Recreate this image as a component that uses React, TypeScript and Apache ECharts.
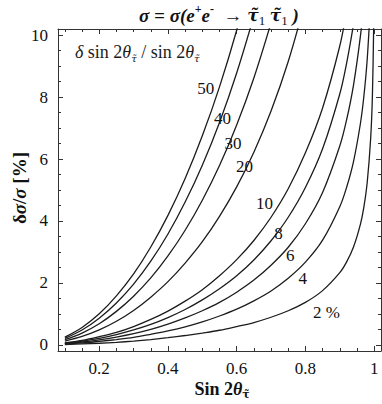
import React, { useEffect, useRef } from "react";
import * as echarts from "echarts";

// sin 2θ sample positions shared by every curve
const sinValues = [0.1, 0.15, 0.2, 0.25, 0.3, 0.35, 0.4, 0.45, 0.5, 0.55, 0.6, 0.65, 0.7, 0.75, 0.8, 0.85, 0.9, 0.92, 0.94, 0.96, 0.97, 0.98, 0.99, 0.995, 0.999];

// δσ/σ [%] for each δ sin2θ / sin2θ curve
const curve50 = [0.25, 0.56, 1.0, 1.58, 2.29, 3.16, 4.18, 5.37, 6.75, 8.33, 10.16, 12.26];
const curve40 = [0.21, 0.48, 0.86, 1.35, 1.96, 2.7, 3.58, 4.61, 5.8, 7.18, 8.78, 10.62];
const curve30 = [0.17, 0.38, 0.68, 1.08, 1.57, 2.16, 2.87, 3.7, 4.67, 5.79, 7.1, 8.62, 10.4];
const curve20 = [0.12, 0.27, 0.48, 0.76, 1.11, 1.54, 2.04, 2.64, 3.33, 4.15, 5.1, 6.22, 7.55, 9.15, 11.11];
const curve10 = [0.06, 0.14, 0.26, 0.4, 0.59, 0.82, 1.09, 1.41, 1.78, 2.23, 2.75, 3.37, 4.12, 5.04, 6.2, 7.65, 9.65, 10.8];
const curve8 = [0.05, 0.12, 0.21, 0.33, 0.48, 0.66, 0.88, 1.14, 1.45, 1.81, 2.23, 2.74, 3.36, 4.12, 5.08, 6.33, 8.1, 9.1, 10.35];
const curve6 = [0.04, 0.09, 0.16, 0.25, 0.36, 0.5, 0.67, 0.87, 1.1, 1.37, 1.7, 2.09, 2.57, 3.15, 3.91, 4.92, 6.42, 7.27, 8.39, 9.96, 11.06];
const curve4 = [0.03, 0.06, 0.11, 0.17, 0.24, 0.34, 0.45, 0.58, 0.74, 0.93, 1.15, 1.42, 1.74, 2.15, 2.67, 3.38, 4.46, 5.09, 5.92, 7.14, 8.01, 9.24, 11.22];
const curve2 = [0.01, 0.03, 0.05, 0.08, 0.12, 0.17, 0.23, 0.3, 0.38, 0.47, 0.59, 0.72, 0.89, 1.1, 1.37, 1.75, 2.33, 2.68, 3.16, 3.89, 4.44, 5.26, 6.68, 8.05, 10.5];

const curveNames = ["50", "40", "30", "20", "10", "8", "6", "4", "2"];
const curveValues = [curve50, curve40, curve30, curve20, curve10, curve8, curve6, curve4, curve2];

// curve labels
const labelTexts = ["50", "40", "30", "20", "10", "8", "6", "4", "2 %"];
const labelX = [0.51, 0.559, 0.589, 0.623, 0.681, 0.722, 0.756, 0.792, 0.861];
const labelY = [8.27, 7.32, 6.51, 5.75, 4.55, 3.6, 2.9, 2.14, 1.05];

// ticks
const xMajorTicks = [0.2, 0.4, 0.6, 0.8, 1];
const xMinorTicks = [0.1, 0.15, 0.25, 0.3, 0.35, 0.45, 0.5, 0.55, 0.65, 0.7, 0.75, 0.85, 0.9, 0.95];
const yMajorTicks = [0, 2, 4, 6, 8, 10];
const yMinorTicks = [0.5, 1, 1.5, 2.5, 3, 3.5, 4.5, 5, 5.5, 6.5, 7, 7.5, 8.5, 9, 9.5];

const X_MIN = 0.08;
const X_MAX = 1.02;
const Y_MIN = -0.2;
const Y_MAX = 10.2;

const SERIF = "'Liberation Serif', serif";
const MARKFONT = "'DejaVu Serif', serif";
const INK = "#1c1c1c";
const FRAME = "#333";

function axis(kind: "x" | "y", position: string, ticks: number[], len: number, labels: boolean, line: boolean) {
  return {
    type: "value",
    position,
    min: kind === "x" ? X_MIN : Y_MIN,
    max: kind === "x" ? X_MAX : Y_MAX,
    gridIndex: 0,
    axisLine: { show: line, onZero: false, lineStyle: { color: FRAME, width: 1 } },
    axisTick: {
      show: true,
      inside: true,
      length: len,
      customValues: ticks,
      lineStyle: { color: FRAME, width: 1 },
    },
    axisLabel: labels
      ? {
          show: true,
          customValues: ticks,
          formatter: (v: number) => String(v),
          fontFamily: SERIF,
          fontSize: 17,
          color: "#111",
          margin: kind === "x" ? 9 : 10,
        }
      : { show: false },
    splitLine: { show: false },
    minorTick: { show: false },
  };
}

const baseGraphics = [
  {
    type: "text",
    x: 219,
    y: 15,
    style: {
      text: "{b|σ = σ(e}{sp|+}{b|e}{sp|-}{b|  → }{t|τ\u0303}{sb|1}{b| }{t|τ\u0303}{sb|1}{b| )}",
      align: "center",
      verticalAlign: "middle",
      rich: {
        b: { fontFamily: SERIF, fontSize: 19, fontWeight: "bold", fontStyle: "italic", fill: "#111", lineHeight: 24 },
        t: { fontFamily: MARKFONT, fontSize: 17, fontWeight: "bold", fontStyle: "italic", fill: "#111", lineHeight: 24 },
        sp: { fontFamily: SERIF, fontSize: 12, fontWeight: "bold", fill: "#111", verticalAlign: "top", lineHeight: 24 },
        sb: { fontFamily: SERIF, fontSize: 13, fill: "#111", verticalAlign: "bottom", lineHeight: 20, padding: [6, 0, 0, 0] },
      },
    },
  },
  {
    type: "text",
    x: 75,
    y: 52,
    style: {
      text: "{i|δ} sin 2{i|θ}{s|τ\u0303} / sin 2{i|θ}{s|τ\u0303}",
      align: "left",
      verticalAlign: "middle",
      fontFamily: SERIF,
      fontSize: 18,
      fill: INK,
      rich: {
        i: { fontFamily: SERIF, fontSize: 18, fontStyle: "italic", fill: INK, lineHeight: 22 },
        s: { fontFamily: MARKFONT, fontSize: 10, fontStyle: "italic", fill: INK, verticalAlign: "bottom", lineHeight: 18, padding: [6, 0, 0, 0] },
      },
    },
  },
  {
    type: "text",
    x: 19,
    y: 188,
    rotation: Math.PI / 2,
    style: {
      text: "{b|δ}{i|σ}{b|/}{i|σ}{b| [%]}",
      align: "center",
      verticalAlign: "middle",
      rich: {
        b: { fontFamily: SERIF, fontSize: 19, fontWeight: "bold", fill: "#111" },
        i: { fontFamily: SERIF, fontSize: 19, fontWeight: "bold", fontStyle: "italic", fill: "#111" },
      },
    },
  },
  {
    type: "text",
    x: 222,
    y: 389,
    style: {
      text: "{b|Sin 2}{i|θ}{s|τ\u0303}",
      align: "center",
      verticalAlign: "middle",
      rich: {
        b: { fontFamily: SERIF, fontSize: 18, fontWeight: "bold", fill: "#111", lineHeight: 22 },
        i: { fontFamily: SERIF, fontSize: 18, fontWeight: "bold", fontStyle: "italic", fill: "#111", lineHeight: 22 },
        s: { fontFamily: MARKFONT, fontSize: 11, fontWeight: "bold", fill: "#111", verticalAlign: "bottom", lineHeight: 18, padding: [5, 0, 0, 0] },
      },
    },
  },
];

export default function App() {
  const ref = useRef<HTMLDivElement>(null);

  useEffect(() => {
    if (!ref.current) return;
    const chart = echarts.init(ref.current, null, { renderer: "svg" });

    const lineSeries = curveValues.map((vals, i) => ({
      type: "line",
      name: curveNames[i],
      xAxisIndex: 0,
      yAxisIndex: 0,
      data: vals.map((v, j) => [sinValues[j], v]),
      showSymbol: false,
      symbol: "none",
      smooth: 0.35,
      clip: true,
      lineStyle: { color: INK, width: 1.3 },
      silent: true,
    }));

    chart.setOption({
      animation: false,
      backgroundColor: "#ffffff",
      grid: { left: 58, top: 29, width: 323, height: 322, containLabel: false },
      xAxis: [
        axis("x", "bottom", xMajorTicks, 5, true, true),
        axis("x", "bottom", xMinorTicks, 3, false, false),
        axis("x", "top", xMajorTicks, 5, false, true),
        axis("x", "top", xMinorTicks, 3, false, false),
      ],
      yAxis: [
        axis("y", "left", yMajorTicks, 5, true, true),
        axis("y", "left", yMinorTicks, 3, false, false),
        axis("y", "right", yMajorTicks, 5, false, true),
        axis("y", "right", yMinorTicks, 3, false, false),
      ],
      series: lineSeries,
      graphic: baseGraphics,
    });

    const labelGraphics = labelTexts.map((t, i) => {
      const p = chart.convertToPixel({ xAxisIndex: 0, yAxisIndex: 0 }, [labelX[i], labelY[i]]) as number[];
      return {
        type: "text",
        x: p[0],
        y: p[1],
        silent: true,
        style: {
          text: t,
          align: "center",
          verticalAlign: "middle",
          fontFamily: SERIF,
          fontSize: 17,
          fill: "#111",
        },
      };
    });

    chart.setOption({ graphic: [...baseGraphics, ...labelGraphics] });

    return () => chart.dispose();
  }, []);

  return (
    <div
      ref={ref}
      style={{ position: "absolute", left: 0, top: 0, width: 382, height: 404, background: "#fff" }}
    />
  );
}
